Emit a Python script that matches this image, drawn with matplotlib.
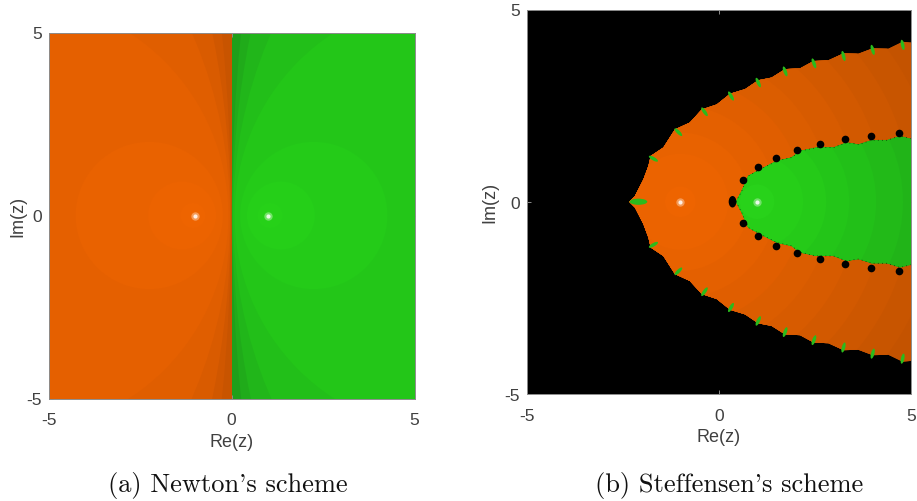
import matplotlib
matplotlib.use('Agg')
import matplotlib.pyplot as plt
from matplotlib.patches import Circle, Ellipse, Polygon, Rectangle
import numpy as np

W, H = 917, 502
ticks = [-5, 0, 5]
tick_labels = ['-5', '0', '5']
roots_re = [-1, 1]

# Newton: rings of equal shade, left and right crossing on the real axis
newton_ring_left = [-100, -50, -25, -12, -4.26, -2.28, -1.4, -1.12]
newton_ring_right = [-0.01, -0.02, -0.04, -0.083, -0.235, -0.42, -0.71, -0.89]
newton_orange = ['#C85400', '#D05700', '#D95B00', '#E05E00', '#E56000', '#E96200', '#EC6300', '#EE6400', '#F16600']
newton_green = ['#1F9F1A', '#20AB1A', '#21B61A', '#22BF19', '#23C618', '#24CB18', '#25CF18', '#26D118', '#29D61A']

# Steffensen: basin outlines, upper half (lower half is its mirror image)
outer_re = [-2.33, -2.18, -1.96, -1.83, -1.77, -1.44, -1.14, -0.75, -0.44, -0.05, 0.30, 0.69, 1.03, 1.38,
            1.73, 2.12, 2.47, 2.86, 3.25, 3.64, 4.01, 4.42, 4.79, 5.0]
outer_im = [0, 0.15, 0.58, 0.93, 1.19, 1.41, 1.88, 2.06, 2.40, 2.53, 2.81, 2.93, 3.16, 3.23,
            3.45, 3.47, 3.66, 3.68, 3.86, 3.85, 3.99, 3.98, 4.16, 4.14]
inner_re = [0.45, 0.60, 0.77, 1.08, 1.51, 1.90, 2.12, 2.55, 2.99, 3.33, 3.64, 3.98, 4.38, 4.72, 5.0]
inner_im = [0, 0.28, 0.67, 0.84, 1.06, 1.15, 1.32, 1.41, 1.41, 1.54, 1.49, 1.60, 1.60, 1.71, 1.64]
dot_re = [0.64, 1.02, 1.49, 2.03, 2.64, 3.29, 3.97, 4.69]
dot_im = [0.56, 0.90, 1.15, 1.34, 1.49, 1.62, 1.72, 1.80]
spike_re = [-1.70, -1.05, -0.37, 0.32, 1.03, 1.73, 2.48, 3.25, 4.01, 4.79]
spike_im = [1.12, 1.81, 2.34, 2.75, 3.10, 3.39, 3.60, 3.79, 3.95, 4.08]
spike_tilt = [-30, -45, -55, -60, -65, -70, -70, -75, -75, -78]
steff_orange_radius = [7.4, 6.7, 6.0, 5.3, 4.6, 3.9, 3.2, 2.5, 1.8, 1.25, 0.4]
steff_orange = ['#C05100', '#C45300', '#C85500', '#CD5700', '#D25900', '#D75B00', '#DB5D00', '#E05E00', '#E46000', '#E86200', '#EB6300', '#EE6400']
steff_green_radius = [4.5, 3.8, 3.1, 2.4, 1.8, 1.2, 0.45]
steff_green = ['#20AE18', '#21B418', '#22BA18', '#22C018', '#23C518', '#25CA18', '#26CE18', '#28D21A']

GREY = '#8C8C8C'
TXT = '#404040'
GREEN_TIP = '#2ABB1C'
fig = plt.figure(figsize=(W / 100, H / 100), dpi=100)
plt.rcParams['font.family'] = ['Liberation Sans']


def make_ax(l, r, t, b, ylabpad):
    ax = fig.add_axes([l / W, 1 - b / H, (r - l) / W, (b - t) / H])
    ax.set_xlim(-5, 5)
    ax.set_ylim(-5, 5)
    ax.set_xticks(ticks, tick_labels)
    ax.set_yticks(ticks, tick_labels)
    ax.tick_params(direction='in', length=3, width=0.7, color=GREY, labelcolor=TXT, labelsize=12.5,
                   top=True, right=True)
    ax.tick_params(axis='x', pad=10)
    ax.tick_params(axis='y', pad=5)
    for s in ax.spines.values():
        s.set_color(GREY)
        s.set_linewidth(0.7)
        s.set_zorder(30)
    ax.set_xlabel('Re(z)', fontsize=13, color=TXT, labelpad=4)
    ax.set_ylabel('Im(z)', fontsize=13, color=TXT, labelpad=ylabpad)
    return ax


def root_marks(ax):
    ax.plot(roots_re, [0, 0], 'o', ms=6, color='white', alpha=0.35, mew=0, zorder=26)
    ax.plot(roots_re, [0, 0], 'o', ms=3, color='white', alpha=0.85, mew=0, zorder=27)


# Panel (a)
ax = make_ax(48.5, 414.5, 33.5, 399.5, 0)
ax.add_patch(Rectangle((-5, -5), 5, 10, fc=newton_orange[0], lw=0, zorder=1))
ax.add_patch(Rectangle((0, -5), 5, 10, fc=newton_green[0], lw=0, zorder=1))
for i, (a, b) in enumerate(zip(newton_ring_left, newton_ring_right)):
    c, r = (a + b) / 2, (b - a) / 2
    ax.add_patch(Circle((c, 0), r, fc=newton_orange[i + 1], lw=0, zorder=2 + i))
    ax.add_patch(Circle((-c, 0), r, fc=newton_green[i + 1], lw=0, zorder=2 + i))
root_marks(ax)

# Panel (b)
ax = make_ax(526.7, 910.7, 10.5, 395, 4)
ax.set_facecolor('black')
ore, oim = np.array(outer_re), np.array(outer_im)
ire, iim = np.array(inner_re), np.array(inner_im)
outer_xy = np.r_[np.c_[ore, oim], np.c_[[5.1, 5.1], [4.14, -4.14]], np.c_[ore[::-1], -oim[::-1]]]
inner_xy = np.r_[np.c_[ire, iim], np.c_[[5.1, 5.1], [1.64, -1.64]], np.c_[ire[::-1], -iim[::-1]]]
outer_poly = Polygon(outer_xy, closed=True, fc=steff_orange[0], lw=0, zorder=1)
ax.add_patch(outer_poly)
for i, r in enumerate(steff_orange_radius):
    p = Circle((-1, 0), r, fc=steff_orange[i + 1], lw=0, zorder=2 + i)
    ax.add_patch(p)
    p.set_clip_path(outer_poly)
inner_poly = Polygon(inner_xy, closed=True, fc=steff_green[0], lw=0, zorder=14)
ax.add_patch(inner_poly)
for i, r in enumerate(steff_green_radius):
    p = Circle((1, 0), r, fc=steff_green[i + 1], lw=0, zorder=15 + i)
    ax.add_patch(p)
    p.set_clip_path(inner_poly)
for sign in (1, -1):
    ax.plot(ire, sign * iim, color='black', lw=0.5, ls=(0, (1, 5)), zorder=23)
    ax.plot(dot_re, sign * np.array(dot_im), 'o', color='black', ms=5.5, mew=0, zorder=24)
    for x, y, t in zip(spike_re, spike_im, spike_tilt):
        ax.add_patch(Ellipse((x, sign * y), 0.27, 0.09, angle=sign * t, fc=GREEN_TIP, lw=0, zorder=24))
ax.add_patch(Ellipse((0.36, 0), 0.2, 0.3, fc='black', lw=0, zorder=24))
ax.add_patch(Ellipse((-2.09, 0), 0.46, 0.16, fc=GREEN_TIP, lw=0, zorder=24))
root_marks(ax)

fig.text(228 / W, 1 - 486 / H, "(a) Newton's scheme", family=['cmr10'], fontsize=19,
         color='#111111', ha='center', va='center')
fig.text(729.5 / W, 1 - 486 / H, "(b) Steffensen's scheme", family=['cmr10'], fontsize=19,
         color='#111111', ha='center', va='center')

fig.savefig('out.png', dpi=100)
